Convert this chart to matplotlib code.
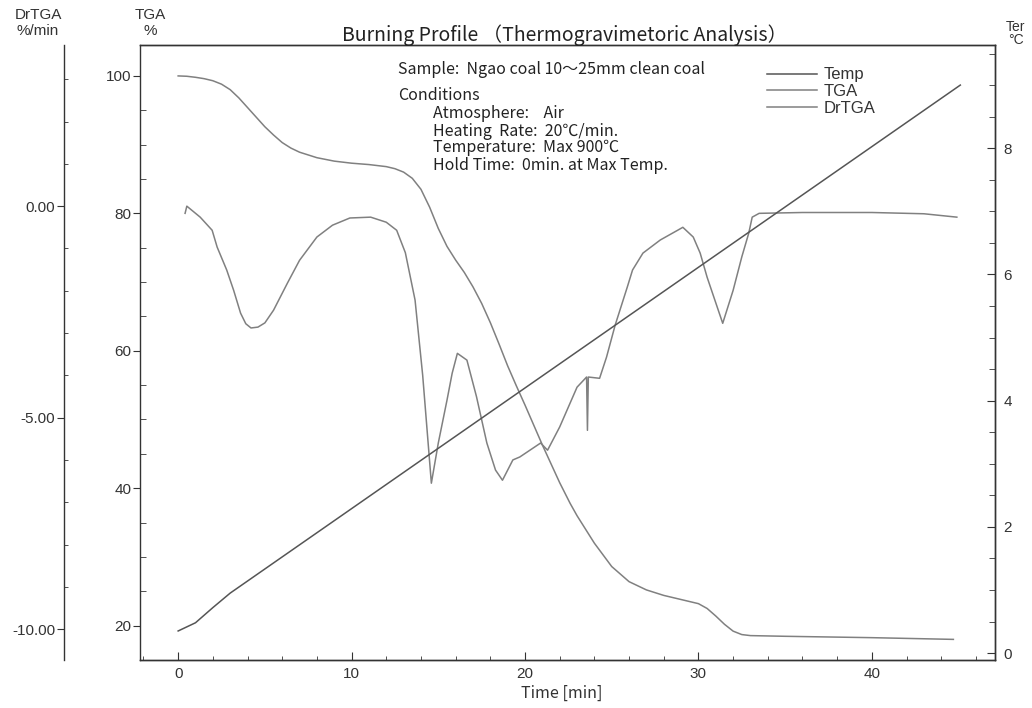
import matplotlib
matplotlib.use("Agg")
import matplotlib.pyplot as plt
from matplotlib.ticker import MultipleLocator, FixedLocator

# data
time_temp = [0, 1, 2, 3, 45.1]
temp_c = [35, 48, 72, 95, 900]

time_tga = [0, 0.5, 1, 1.5, 2, 2.5, 3, 3.5, 4, 4.5, 5, 5.5, 6, 6.5, 7, 8, 9, 10, 11, 12,
            12.5, 13, 13.5, 14, 14.5, 15, 15.5, 16, 16.5, 17, 17.5, 18, 18.5, 19, 19.5, 20,
            21, 22, 22.6, 23, 24, 25, 26, 27, 28, 29, 30, 30.5, 31, 31.5, 32, 32.5, 33,
            35, 40, 44.7]
tga = [100, 99.95, 99.8, 99.6, 99.3, 98.8, 98.0, 96.8, 95.4, 94.0, 92.6, 91.4, 90.3, 89.5,
       88.9, 88.1, 87.6, 87.3, 87.1, 86.8, 86.5, 86.0, 85.1, 83.5, 80.9, 77.8, 75.2, 73.2,
       71.4, 69.3, 66.9, 64.1, 61.0, 57.8, 54.9, 52.1, 46.3, 40.8, 37.8, 36.0, 32.0, 28.6,
       26.4, 25.2, 24.4, 23.8, 23.2, 22.5, 21.4, 20.2, 19.2, 18.7, 18.55, 18.45, 18.25, 18.0]

time_dr = [0.4, 0.5, 1.27, 1.96, 2.25, 2.8, 3.2, 3.6, 3.9, 4.2, 4.6, 5.0, 5.5, 6.3, 7.0,
           8.0, 8.9, 9.9, 11.1, 12.0, 12.6, 13.1, 13.66, 14.1, 14.6, 15.0, 15.5, 15.8, 16.1,
           16.65, 17.2, 17.8, 18.3, 18.7, 19.3, 19.7, 20.9, 21.3, 22.0, 23.0, 23.55, 23.6,
           23.65, 24.3, 24.7, 25.2, 25.9, 26.2, 26.8, 27.8, 28.8, 29.1, 29.7, 30.1, 30.5,
           31.4, 32.0, 32.5, 32.9, 33.1, 33.5, 36, 40, 43, 44.9]
drtga = [-0.17, 0.0, -0.26, -0.57, -0.97, -1.51, -1.99, -2.53, -2.78, -2.88, -2.86, -2.76,
         -2.46, -1.82, -1.28, -0.73, -0.45, -0.28, -0.26, -0.38, -0.57, -1.1, -2.22, -4.0,
         -6.55, -5.6, -4.59, -3.95, -3.48, -3.64, -4.5, -5.6, -6.24, -6.48, -6.0, -5.93,
         -5.6, -5.77, -5.22, -4.28, -4.04, -5.3, -4.04, -4.07, -3.57, -2.81, -1.91, -1.51,
         -1.11, -0.80, -0.57, -0.50, -0.73, -1.11, -1.68, -2.77, -1.99, -1.2, -0.64, -0.26,
         -0.17, -0.15, -0.15, -0.18, -0.26]

line_col = "#808080"
ink = "#333333"
sans = ["Liberation Sans", "DejaVu Sans"]
jp = ["Noto Sans CJK JP", "DejaVu Sans"]

fig = plt.figure(figsize=(10.32, 7.08), dpi=100)
ax = fig.add_axes([140 / 1032, 48 / 708, 855 / 1032, 615 / 708])
ax_d = ax.twinx()
ax_t = ax.twinx()

ln_t, = ax_t.plot(time_temp, temp_c, color="#555555", lw=1.1, label="Temp")
ln_g, = ax.plot(time_tga, tga, color=line_col, lw=1.1, label="TGA")
ln_d, = ax_d.plot(time_dr, drtga, color=line_col, lw=1.1, label="DrTGA")

ax.set_xlim(-2.2, 47.1)
ax.set_ylim(15.0, 104.5)
ax_d.set_ylim(-10.73, 3.81)
ax_t.set_ylim(-11, 963.5)

for a in (ax, ax_d, ax_t):
    for s in a.spines.values():
        s.set_color(ink)
        s.set_linewidth(1.0)

# time axis
ax.xaxis.set_major_locator(MultipleLocator(10))
ax.xaxis.set_minor_locator(MultipleLocator(2))
ax.tick_params(axis="x", which="both", direction="in", colors=ink, labelsize=11, pad=5)
ax.tick_params(axis="x", which="major", length=6)
ax.tick_params(axis="x", which="minor", length=3)
ax.tick_params(axis="x", top=False, which="both")

# TGA axis
ax.yaxis.set_major_locator(FixedLocator([20, 40, 60, 80, 100]))
ax.yaxis.set_minor_locator(MultipleLocator(5))
ax.tick_params(axis="y", which="major", direction="out", length=5, colors=ink, labelsize=11, pad=1)
ax.tick_params(axis="y", which="minor", direction="in", length=4, colors=ink)

# DrTGA axis on the far left
ax_d.spines["left"].set_visible(True)
ax_d.spines["left"].set_position(("outward", 55))
ax_d.spines["right"].set_visible(False)
ax_d.spines["top"].set_visible(False)
ax_d.spines["bottom"].set_visible(False)
ax_d.yaxis.set_ticks_position("left")
ax_d.yaxis.set_major_locator(FixedLocator([0, -5, -10]))
ax_d.yaxis.set_minor_locator(MultipleLocator(1))
ax_d.set_yticklabels(["0.00", "-5.00", "-10.00"])
ax_d.tick_params(axis="y", which="major", direction="out", length=5, colors=ink, labelsize=11, pad=1)
ax_d.tick_params(axis="y", which="minor", direction="in", length=3, colors=ink)

# temperature axis, labelled in hundreds of degC
ax_t.spines["left"].set_visible(False)
ax_t.yaxis.set_major_locator(FixedLocator([0, 200, 400, 600, 800]))
ax_t.yaxis.set_minor_locator(MultipleLocator(50))
ax_t.set_yticklabels(["0", "2", "4", "6", "8"])
ax_t.tick_params(axis="y", which="major", direction="in", length=6, colors=ink, labelsize=11, pad=6)
ax_t.tick_params(axis="y", which="minor", direction="in", length=4, colors=ink)

for lab in ax.get_xticklabels() + ax.get_yticklabels() + ax_d.get_yticklabels() + ax_t.get_yticklabels():
    lab.set_family(sans)

# axis titles
fig.text(38 / 1032, 1 - 15 / 708, "DrTGA", ha="center", va="center", fontsize=11, color=ink, family=sans)
fig.text(38 / 1032, 1 - 31 / 708, "%/min", ha="center", va="center", fontsize=11, color=ink, family=sans)
fig.text(150 / 1032, 1 - 15 / 708, "TGA", ha="center", va="center", fontsize=11, color=ink, family=sans)
fig.text(150 / 1032, 1 - 31 / 708, "%", ha="center", va="center", fontsize=11, color=ink, family=sans)
fig.text(1016 / 1032, 1 - 27 / 708, "Ter", ha="center", va="center", fontsize=10, color=ink, family=sans)
fig.text(1016 / 1032, 1 - 40 / 708, "°C", ha="center", va="center", fontsize=10, color=ink, family=sans)
fig.text(562 / 1032, 1 - 693 / 708, "Time [min]", ha="center", va="center", fontsize=11.5, color=ink, family=jp)

fig.text(565 / 1032, 1 - 35 / 708, "Burning Profile （Thermogravimetoric Analysis）",
         ha="center", va="center", fontsize=14, color="#222222", family=jp)

notes = [
    (398, 69, "Sample:  Ngao coal 10～25mm clean coal"),
    (398, 95, "Conditions"),
    (433, 114, "Atmosphere:    Air"),
    (433, 131, "Heating  Rate:  20℃/min."),
    (433, 148, "Temperature:  Max 900℃"),
    (433, 165, "Hold Time:  0min. at Max Temp."),
]
for x, y, s in notes:
    fig.text(x / 1032, 1 - y / 708, s, ha="left", va="center", fontsize=11.5, color="#222222", family=jp)

leg = ax.legend([ln_t, ln_g, ln_d], ["Temp", "TGA", "DrTGA"], loc="upper left",
                bbox_to_anchor=(0.716, 0.988), frameon=False, handlelength=3.0,
                handletextpad=0.4, labelspacing=0.1, prop={"family": sans, "size": 12})
for t in leg.get_texts():
    t.set_color(ink)

fig.savefig("out.png", dpi=100, facecolor="white")
